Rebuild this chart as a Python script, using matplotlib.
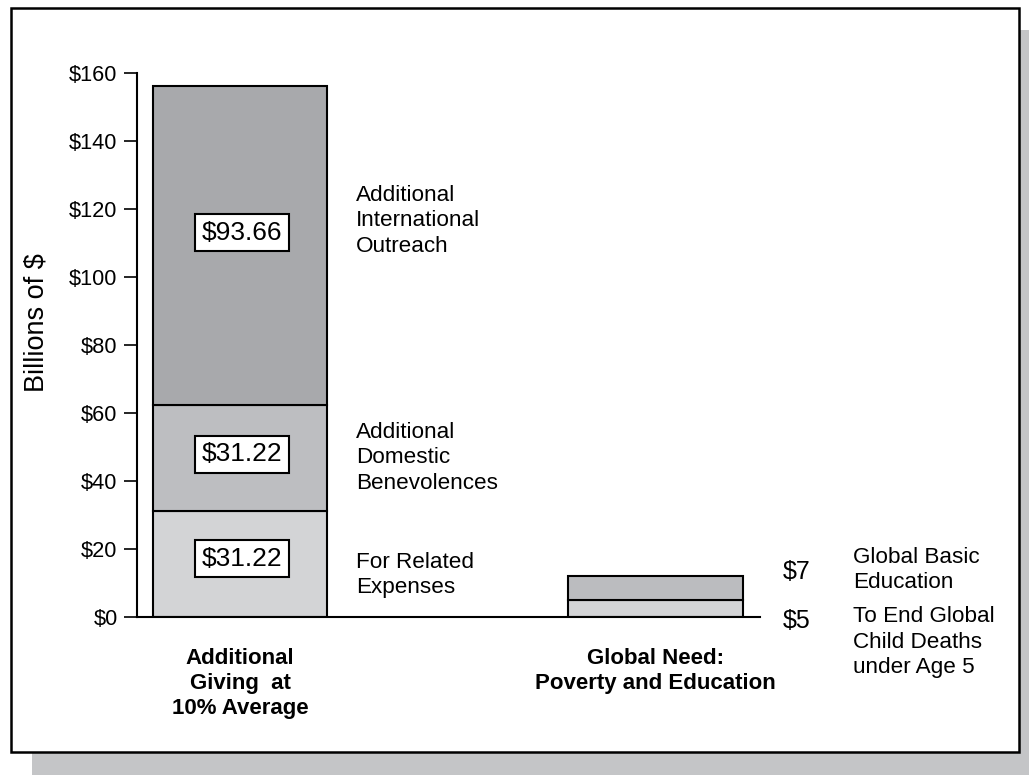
import matplotlib.pyplot as plt
from matplotlib.patches import Rectangle

# Data (billions of $)
categories = ['Additional\nGiving  at\n10% Average', 'Global Need:\nPoverty and Education']
giving_segments = [31.22, 31.22, 93.66]
giving_labels = ['For Related\nExpenses', 'Additional\nDomestic\nBenevolences',
                 'Additional\nInternational\nOutreach']
need_segments = [5, 7]
need_labels = ['To End Global\nChild Deaths\nunder Age 5', 'Global Basic\nEducation']
yticks = [0, 20, 40, 60, 80, 100, 120, 140, 160]

giving_colors = ['#d3d4d6', '#bdbec1', '#a8a9ac']
need_colors = ['#d3d4d6', '#bbbcbf']

plt.rcParams['font.family'] = ['Liberation Sans', 'DejaVu Sans']

fig = plt.figure(figsize=(10.29, 7.75), dpi=100)

# Drop shadow and frame around the whole chart
fig.patches.append(Rectangle((32 / 1029, 0), 1 - 32 / 1029, 1 - 30 / 775,
                             transform=fig.transFigure, facecolor='#c4c5c7',
                             edgecolor='none', zorder=0))
fig.patches.append(Rectangle((10.5 / 1029, 1 - 752 / 775), 1008.5 / 1029, 744 / 775,
                             transform=fig.transFigure, facecolor='white',
                             edgecolor='black', linewidth=1.8, zorder=1))

ax = fig.add_axes([137 / 1029, 1 - 617 / 775, 623 / 1029, 544 / 775])
ax.set_zorder(2)
ax.patch.set_visible(False)

width = 0.419

# Stacked bar: additional giving
bottom = 0
for val, col in zip(giving_segments, giving_colors):
    ax.bar(0, val, width, bottom=bottom, color=col, edgecolor='black', linewidth=1.5)
    bottom += val

# Stacked bar: global need
bottom = 0
for val, col in zip(need_segments, need_colors):
    ax.bar(1, val, width, bottom=bottom, color=col, edgecolor='black', linewidth=1.5)
    bottom += val

ax.set_xlim(-0.248, 1.2515)
ax.set_ylim(0, 160)

ax.spines['top'].set_visible(False)
ax.spines['right'].set_visible(False)
ax.spines['left'].set_linewidth(1.5)
ax.spines['bottom'].set_linewidth(1.5)

ax.set_yticks(yticks)
ax.set_yticklabels([f'${v}' for v in yticks])
ax.tick_params(axis='y', length=9.5, width=1.2, labelsize=15.7, pad=4.5)
ax.set_xticks([0, 1])
ax.set_xticklabels(categories, fontsize=16, fontweight='bold', linespacing=1.27)
ax.tick_params(axis='x', length=0, pad=22)

ax.set_ylabel('Billions of $', fontsize=19.5)
ax.yaxis.set_label_coords(-0.141, 0.542)

# Value boxes on the giving bar
box = dict(boxstyle='square,pad=0.25', facecolor='white', edgecolor='black', linewidth=1.5)
value_y = [17.2, 47.8, 113]
for val, y in zip(giving_segments, value_y):
    ax.text(0.005, y, f'${val:.2f}', ha='center', va='center', fontsize=19, bbox=box)

# Segment descriptions next to the giving bar
label_y = [12.4, 46.8, 116.5]
for txt, y in zip(giving_labels, label_y):
    ax.text(0.28, y, txt, ha='left', va='center', fontsize=16.2,
            linespacing=1.27, clip_on=False)

# Amounts and descriptions for the global need bar
amount_y = [-1.2, 13.2]
desc_y = [-7.4, 13.8]
for val, txt, ya, yd in zip(need_segments, need_labels, amount_y, desc_y):
    ax.text(1.307, ya, f'${val}', ha='left', va='center', fontsize=18, clip_on=False)
    ax.text(1.475, yd, txt, ha='left', va='center', fontsize=16.2,
            linespacing=1.27, clip_on=False)

fig.savefig('out.png', dpi=100)
